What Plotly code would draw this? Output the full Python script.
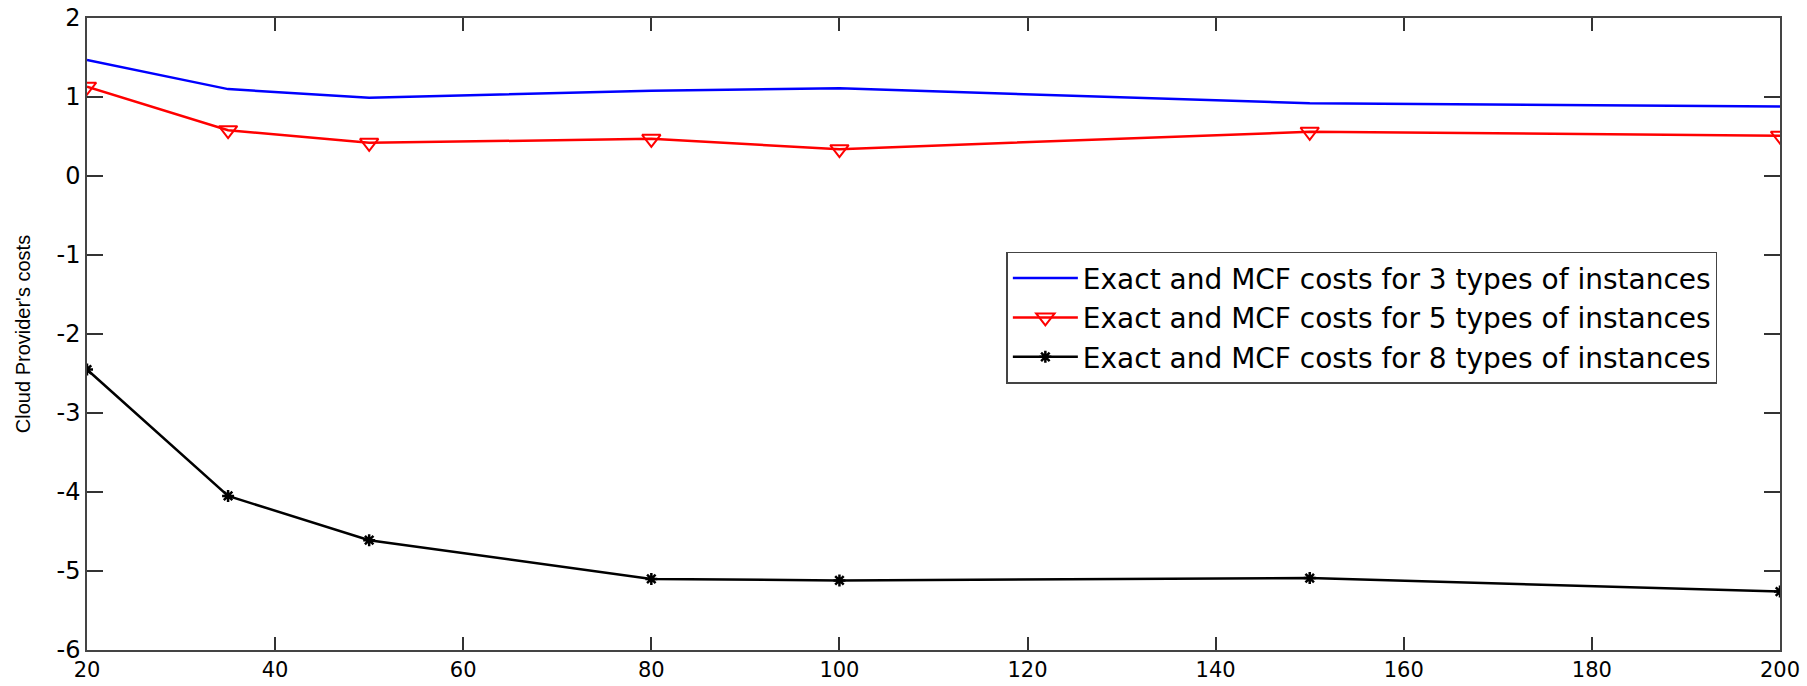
import plotly.graph_objects as go

x_vals = [20, 35, 50, 80, 100, 150, 200]
cost_3_types = [1.47, 1.10, 0.99, 1.08, 1.11, 0.92, 0.88]
cost_5_types = [1.13, 0.58, 0.42, 0.47, 0.34, 0.56, 0.51]
cost_8_types = [-2.45, -4.05, -4.61, -5.10, -5.12, -5.09, -5.26]
series_names = [
    "Exact and MCF costs for 3 types of instances",
    "Exact and MCF costs for 5 types of instances",
    "Exact and MCF costs for 8 types of instances",
]
x_ticks = [20, 40, 60, 80, 100, 120, 140, 160, 180, 200]
y_ticks = [-6, -5, -4, -3, -2, -1, 0, 1, 2]
y_tick_labels = ["-6", "-5", "-4", "-3", "-2", "-1", "0", "1", "2"]

WIDE = "DejaVu Sans, Verdana, sans-serif"
NARROW = "Liberation Sans, Arial, Helvetica, sans-serif"

fig = go.Figure()
fig.add_trace(go.Scatter(
    x=x_vals, y=cost_3_types, mode="lines", name=series_names[0],
    line=dict(color="#0000ff", width=2.5),
))
fig.add_trace(go.Scatter(
    x=x_vals, y=cost_5_types, mode="lines+markers", name=series_names[1],
    line=dict(color="#ff0000", width=2.5),
    marker=dict(symbol="triangle-down-open", size=16, color="#ff0000",
                line=dict(color="#ff0000", width=2)),
))
fig.add_trace(go.Scatter(
    x=x_vals, y=cost_8_types, mode="lines+markers", name=series_names[2],
    line=dict(color="#000000", width=2.5),
    marker=dict(symbol="asterisk-open", size=10, color="#000000",
                line=dict(color="#000000", width=2.5)),
))

axis_common = dict(
    showline=True, linecolor="#444444", linewidth=1.5, mirror="ticks",
    ticks="inside", tickcolor="#333333", tickwidth=1.5,
    showgrid=False, zeroline=False, automargin=False,
)

fig.update_xaxes(range=[20, 200], tickvals=x_ticks, ticklen=13,
                 tickfont=dict(family=WIDE, size=21, color="#000000"),
                 **axis_common)
fig.update_yaxes(range=[-6, 2], tickvals=y_ticks, ticktext=y_tick_labels, ticklen=16,
                 tickfont=dict(family=WIDE, size=24, color="#000000"),
                 title=dict(text="Cloud Provider's costs", standoff=21,
                            font=dict(family=NARROW, size=20, color="#000000")),
                 **axis_common)

fig.update_layout(
    width=1807, height=686,
    margin=dict(l=87, r=27, t=18, b=36, autoexpand=False),
    paper_bgcolor="white", plot_bgcolor="white",
    font=dict(family=WIDE, color="#000000"),
    legend=dict(
        x=0.963, y=0.63, xanchor="right", yanchor="top",
        bgcolor="white", bordercolor="#444444", borderwidth=1.5,
        font=dict(family=WIDE, size=28, color="#000000"),
        tracegroupgap=0, itemwidth=65,
    ),
)

fig.write_html(
    "out.html",
    config={"displayModeBar": False},
    post_script="document.body.style.margin='0';document.body.style.overflow='hidden';",
)
